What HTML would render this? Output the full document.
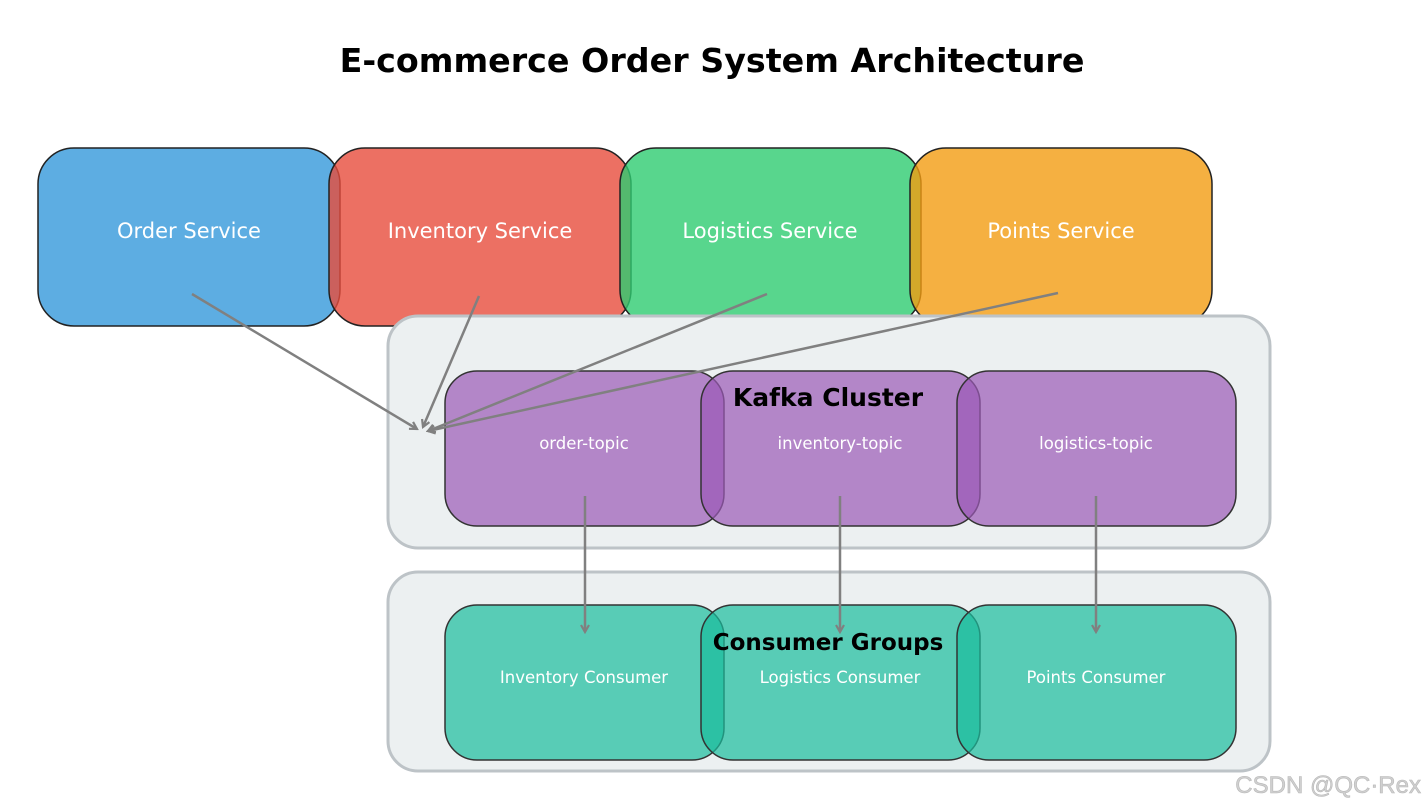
<!DOCTYPE html>
<html><head><meta charset="utf-8"><style>
html,body{margin:0;padding:0;background:#fff;}
svg{display:block;font-family:"DejaVu Sans","Liberation Sans",sans-serif;}
</style></head><body>
<svg width="1425" height="809" viewBox="0 0 1425 809" xmlns="http://www.w3.org/2000/svg">
<defs><marker id="ah" markerWidth="10" markerHeight="10" refX="8" refY="5" orient="auto" markerUnits="userSpaceOnUse"><path d="M1,1 L8,5 L1,9" fill="none" stroke="#808080" stroke-width="2.2"/></marker></defs>
<text x="712" y="72" text-anchor="middle" font-size="33.3" font-weight="bold" fill="#000">E-commerce Order System Architecture</text>

<g stroke="#222" stroke-width="1.5">
<rect x="38" y="148" width="302" height="178" rx="36" fill="#3498DB" fill-opacity="0.8"/>
<rect x="329" y="148" width="302" height="178" rx="36" fill="#E74C3C" fill-opacity="0.8"/>
<rect x="620" y="148" width="301" height="178" rx="36" fill="#2ECC71" fill-opacity="0.8"/>
<rect x="910" y="148" width="302" height="178" rx="36" fill="#F39C12" fill-opacity="0.8"/>
</g>
<g fill="#fff" font-size="21" text-anchor="middle">
<text x="189" y="238">Order Service</text>
<text x="480" y="238">Inventory Service</text>
<text x="770" y="238">Logistics Service</text>
<text x="1061" y="238">Points Service</text>
</g>

<rect x="388" y="316" width="882" height="232" rx="30" fill="#ECF0F1" stroke="#BDC3C7" stroke-width="3"/>
<rect x="388" y="572" width="882" height="199" rx="30" fill="#ECF0F1" stroke="#BDC3C7" stroke-width="3"/>

<g stroke="#333" stroke-width="1.5">
<rect x="445" y="371" width="279" height="155" rx="32" fill="#9B59B6" fill-opacity="0.7"/>
<rect x="701" y="371" width="279" height="155" rx="32" fill="#9B59B6" fill-opacity="0.7"/>
<rect x="957" y="371" width="279" height="155" rx="32" fill="#9B59B6" fill-opacity="0.7"/>
<rect x="445" y="605" width="279" height="155" rx="32" fill="#1ABC9C" fill-opacity="0.7"/>
<rect x="701" y="605" width="279" height="155" rx="32" fill="#1ABC9C" fill-opacity="0.7"/>
<rect x="957" y="605" width="279" height="155" rx="32" fill="#1ABC9C" fill-opacity="0.7"/>
</g>
<text x="828" y="406" text-anchor="middle" font-size="25" font-weight="bold" fill="#000">Kafka Cluster</text>
<text x="828" y="650" text-anchor="middle" font-size="23" font-weight="bold" fill="#000">Consumer Groups</text>
<g fill="#fff" font-size="16.5" text-anchor="middle">
<text x="584" y="449">order-topic</text>
<text x="840" y="449">inventory-topic</text>
<text x="1096" y="449">logistics-topic</text>
<text x="584" y="683">Inventory Consumer</text>
<text x="840" y="683">Logistics Consumer</text>
<text x="1096" y="683">Points Consumer</text>
</g>

<g stroke="#808080" stroke-width="2.5" fill="none" marker-end="url(#ah)">
<line x1="192" y1="294" x2="417" y2="429"/>
<line x1="479" y1="296" x2="423" y2="427"/>
<line x1="767" y1="294" x2="428" y2="431"/>
<line x1="1058" y1="293" x2="428" y2="431"/>
<line x1="585" y1="496" x2="585" y2="632"/>
<line x1="840" y1="496" x2="840" y2="632"/>
<line x1="1096" y1="496" x2="1096" y2="632"/>
</g>
<text x="1421" y="793" text-anchor="end" font-family="Liberation Sans, sans-serif" font-size="24" fill="#d0d0d0" stroke="#b8b8b8" stroke-width="0.6">CSDN @QC·Rex</text>
</svg>
</body></html>
